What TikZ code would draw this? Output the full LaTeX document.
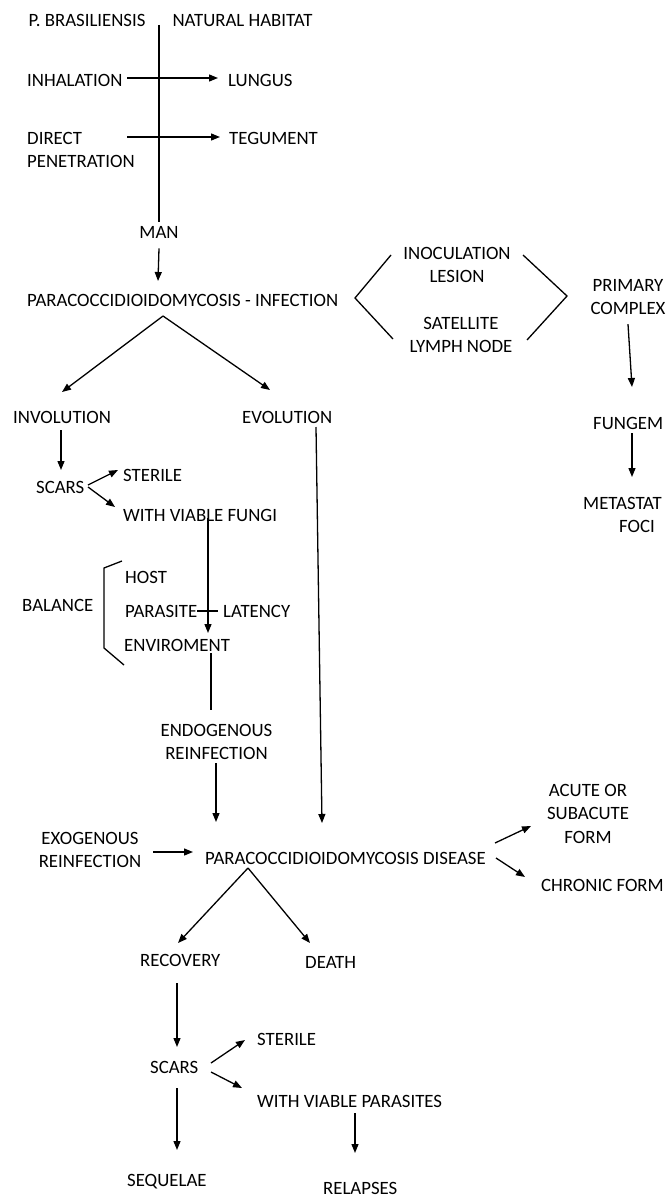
\documentclass[tikz,border=0pt]{standalone}
\usepackage{fontspec}
\setmainfont{Carlito}
\usetikzlibrary{arrows.meta,calc}
\begin{document}
\begin{tikzpicture}[x=1pt,y=-1pt,
  lbl/.style={inner sep=0pt,font=\fontsize{18.8}{23.5}\selectfont,text height=12.2pt,text depth=0pt},
  mlbl/.style={inner sep=0pt,font=\fontsize{18.8}{23.5}\selectfont,align=center,anchor=north},
  ln/.style={line width=1.3pt},
  arr/.style={ln,-{Triangle[length=9pt,width=7pt]}}]
\fill[white] (0,0) rectangle (665,1199);
\useasboundingbox (0,0) rectangle (665,1199);

% nodes
\node[lbl] (pb) at (87,20) {P. BRASILIENSIS};
\node[lbl] (nh) at (242.5,20) {NATURAL HABITAT};
\node[lbl,anchor=west] (inh) at (27,80) {INHALATION};
\node[lbl,anchor=west] (lung) at (228,80) {LUNGUS};
\node[mlbl,anchor=north west,align=left] (dir) at (27,132) {DIRECT\\PENETRATION};
\node[lbl,anchor=west] (teg) at (229,138) {TEGUMENT};
\node[lbl] (man) at (159,232) {MAN};
\node[lbl,anchor=west] (inf) at (27,300) {PARACOCCIDIOIDOMYCOSIS - INFECTION};
\node[mlbl] (inoc) at (457,247) {INOCULATION\\LESION};
\node[mlbl] (sat) at (461,317) {SATELLITE\\LYMPH NODE};
\node[mlbl] (prim) at (628,279) {PRIMARY\\COMPLEX};
\node[lbl,anchor=west] (fung) at (593,423) {FUNGEM};
\node[lbl,anchor=west] (meta) at (583,503) {METASTAT};
\node[lbl] (foci) at (637,526) {FOCI};
\node[lbl,anchor=west] (invol) at (13,417) {INVOLUTION};
\node[lbl,anchor=west] (evol) at (242,417) {EVOLUTION};
\node[lbl,anchor=west] (scarsa) at (36,487) {SCARS};
\node[lbl,anchor=west] (stera) at (123,475) {STERILE};
\node[lbl,anchor=west] (wvf) at (123,515) {WITH VIABLE FUNGI};
\node[lbl,anchor=west] (bal) at (22,605) {BALANCE};
\node[lbl,anchor=west] (host) at (125,577) {HOST};
\node[lbl,anchor=west] (para) at (125,611) {PARASITE};
\node[lbl,anchor=west] (lat) at (223,611) {LATENCY};
\node[lbl,anchor=west] (env) at (124,645) {ENVIROMENT};
\node[mlbl] (endo) at (216.5,724) {ENDOGENOUS\\REINFECTION};
\node[mlbl] (exo) at (90,832) {EXOGENOUS\\REINFECTION};
\node[lbl,anchor=west] (dis) at (205,858) {PARACOCCIDIOIDOMYCOSIS DISEASE};
\node[mlbl] (acute) at (588,784) {ACUTE OR\\SUBACUTE\\FORM};
\node[lbl,anchor=west] (chron) at (541,885) {CHRONIC FORM};
\node[lbl,anchor=west] (rec) at (140,960) {RECOVERY};
\node[lbl,anchor=west] (death) at (305,962) {DEATH};
\node[lbl,anchor=west] (scarsb) at (150,1067) {SCARS};
\node[lbl,anchor=west] (sterb) at (257,1039) {STERILE};
\node[lbl,anchor=west] (wvp) at (257,1101) {WITH VIABLE PARASITES};
\node[lbl,anchor=west] (seq) at (127,1180) {SEQUELAE};
\node[lbl,anchor=west] (rel) at (323,1188) {RELAPSES};

% connectors
\coordinate (vtop) at (159,25);
\draw[ln] (vtop) -- ($(man.north)+(0,-4)$);
\draw[arr] ($(inh.west)+(100,-2)$) -- ($(lung.west)+(-10,-2)$);
\draw[arr] ($(dir.north west)+(100,5)$) -- ($(teg.west)+(-9,-1)$);
\draw[arr] ($(man.south)+(0,10)$) -- ($(inf.west)+(131,-19)$);
\draw[arr] ($(inf.west)+(136,16)$) -- ($(invol.west)+(49,-25)$);
\draw[arr] ($(inf.west)+(136,16)$) -- ($(evol.west)+(28,-27)$);
% brackets round the primary complex parts
\draw[ln] (391,255) -- (355,298) -- (393,339);
\draw[ln] (523,255) -- (567,296) -- (527,340);
\draw[arr] ($(prim.south)+(0,9)$) -- ($(fung.west)+(39,-36)$);
\draw[arr] ($(fung.west)+(39,10)$) -- ($(meta.west)+(49,-26)$);
\draw[arr] ($(invol.west)+(48,13)$) -- ($(scarsa.west)+(25,-17)$);
\draw[arr] ($(scarsa.west)+(52,-2)$) -- ($(stera.west)+(-5,-5)$);
\draw[arr] ($(scarsa.west)+(52,0)$) -- ($(wvf.west)+(-8,-8)$);
\draw[arr] ($(wvf.west)+(85,3)$) -- ($(env.west)+(84,-12)$);
\draw[ln] ($(para.west)+(72,0)$) -- ($(lat.west)+(-5,0)$);
\draw[ln] (122,561) -- (104,568) -- (104,648) -- (124,665);
\draw[ln] ($(env.west)+(87,8)$) -- ($(endo.north)+(-5.5,-14)$);
\draw[arr] ($(endo.north)+(-0.5,39)$) -- ($(dis.west)+(11,-36)$);
\draw[arr] ($(evol.west)+(74,10)$) -- ($(dis.west)+(117,-35)$);
\draw[arr] ($(exo.north)+(63,20)$) -- ($(dis.west)+(-12,-6)$);
\draw[arr] ($(dis.west)+(290,-15)$) -- ($(acute.north)+(-57,42)$);
\draw[arr] ($(dis.west)+(291,0)$) -- ($(chron.west)+(-16,-8)$);
\draw[arr] ($(dis.west)+(43,10)$) -- ($(rec.west)+(38,-17)$);
\draw[arr] ($(dis.west)+(43,10)$) -- ($(death.west)+(5,-19)$);
\draw[arr] ($(rec.west)+(37,23)$) -- ($(scarsb.west)+(27,-20)$);
\draw[arr] ($(scarsb.west)+(61,-4)$) -- ($(sterb.west)+(-12,1)$);
\draw[arr] ($(scarsb.west)+(61,5)$) -- ($(wvp.west)+(-15,-13)$);
\draw[arr] ($(scarsb.west)+(27,21)$) -- ($(seq.west)+(50,-30)$);
\draw[arr] ($(wvp.west)+(98,12)$) -- ($(rel.west)+(32,-35)$);
\end{tikzpicture}
\end{document}
